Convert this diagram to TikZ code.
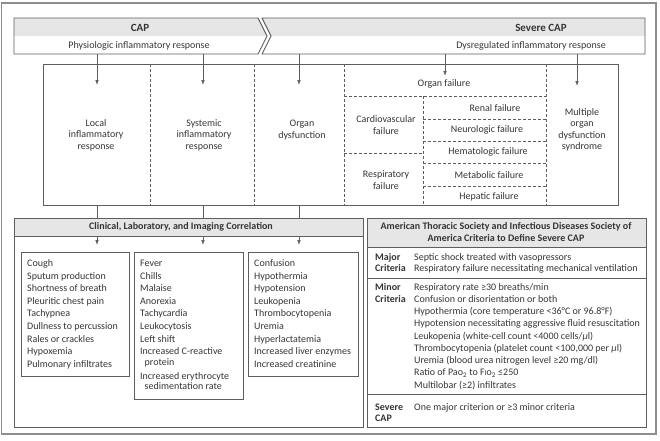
\documentclass[tikz,border=0pt]{standalone}
\usepackage{fontspec}
\setmainfont{Carlito}
\usetikzlibrary{arrows.meta}
\definecolor{ln}{HTML}{5E5E5E}
\definecolor{tx}{HTML}{353535}
\definecolor{band}{HTML}{E6E6E6}
\definecolor{framec}{HTML}{8E8E8E}
\begin{document}
\begin{tikzpicture}[x=1pt,y=-1pt,
  box/.style={draw=ln, line width=0.9pt},
  dsh/.style={draw=ln, line width=0.8pt, dash pattern=on 3pt off 2pt},
  arr/.style={draw=ln, line width=0.8pt, -{Latex[length=5pt,width=3.6pt]}},
  plain/.style={draw=ln, line width=0.8pt},
  hdr/.style={text=tx, font=\fontsize{11}{13}\selectfont\bfseries, inner sep=0pt},
  lbl/.style={text=tx, font=\fontsize{10}{11.5}\selectfont, align=center, inner sep=0pt},
  ttl/.style={text=tx, font=\fontsize{10}{11.5}\selectfont\bfseries, align=center, inner sep=0pt},
  item/.style={text=tx, font=\fontsize{10}{12}\selectfont, anchor=base west, inner sep=0pt},
  bitem/.style={text=tx, font=\fontsize{10}{12}\selectfont\bfseries, anchor=base west, inner sep=0pt}]
\useasboundingbox (0,0) rectangle (660,440);
% outer frame
\draw[framec, line width=1.2pt] (1.5,3) rectangle (656,434);
% headers
\fill[band] (14,18) -- (258,18) -- (267,36) -- (14,36) -- cycle;
\draw[box] (14,18) -- (258,18) -- (267,36) -- (258,54) -- (14,54) -- cycle;
\fill[band] (262,18) -- (645,18) -- (645,36) -- (271,36) -- cycle;
\draw[box] (262,18) -- (645,18) -- (645,54) -- (262,54) -- (271,36) -- cycle;
\node[hdr] (cap) at (140,28) {CAP};
\node[lbl] (capsub) at (139,46) {Physiologic inflammatory response};
\node[hdr] (sev) at (541,28) {Severe CAP};
\node[lbl] (sevsub) at (531,46) {Dysregulated inflammatory response};
% middle box
\draw[box] (43,64) rectangle (618,205);
\draw[dsh] (150,64) -- (150,205);
\draw[dsh] (254,64) -- (254,205);
\draw[dsh] (344,64) -- (344,205);
\draw[dsh] (546,64) -- (546,205);
\draw[dsh] (344,96) -- (546,96);
\draw[dsh] (423,96) -- (423,205);
\draw[dsh] (344,153) -- (423,153);
\draw[dsh] (423,119) -- (546,119);
\draw[dsh] (423,141) -- (546,141);
\draw[dsh] (423,163) -- (546,163);
\draw[dsh] (423,186) -- (546,186);
\node[lbl] (local) at (96,135) {Local\\inflammatory\\response};
\node[lbl] (sys) at (204,135) {Systemic\\inflammatory\\response};
\node[lbl] (orgd) at (302,130) {Organ\\dysfunction};
\node[lbl] (orgf) at (444,84) {Organ failure};
\node[lbl] (cardio) at (386,125) {Cardiovascular\\failure};
\node[lbl] (resp) at (386,180) {Respiratory\\failure};
\node[lbl] (renal) at (495,108) {Renal failure};
\node[lbl] (neuro) at (487,130) {Neurologic failure};
\node[lbl] (hema) at (488,152) {Hematologic failure};
\node[lbl] (meta) at (489,175) {Metabolic failure};
\node[lbl] (hepa) at (489,197) {Hepatic failure};
\node[lbl] (mods) at (582,130) {Multiple\\organ\\dysfunction\\syndrome};
% arrows from headers
\coordinate (h1) at (97,54);  \coordinate (e1) at (97,85);
\coordinate (h2) at (203,54); \coordinate (e2) at (203,85);
\coordinate (h3) at (299,54); \coordinate (e3) at (299,85);
\coordinate (h4) at (445,54); \coordinate (e4) at (445,76);
\coordinate (h5) at (577,54); \coordinate (e5) at (577,86);
\draw[arr] (h1) -- (e1);
\draw[arr] (h2) -- (e2);
\draw[arr] (h3) -- (e3);
\draw[arr] (h4) -- (e4);
\draw[arr] (h5) -- (e5);
% links to clinical box
\coordinate (b1) at (97,205);  \coordinate (c1) at (97,218);
\coordinate (b2) at (203,205); \coordinate (c2) at (203,218);
\coordinate (b3) at (299,205); \coordinate (c3) at (299,218);
\draw[plain] (b1) -- (c1);
\draw[plain] (b2) -- (c2);
\draw[plain] (b3) -- (c3);
% clinical box
\fill[band] (14,218) rectangle (363,236);
\draw[box] (14,236) -- (363,236);
\draw[box] (14,218) rectangle (363,427);
\node[ttl] (clin) at (181,227) {Clinical, Laboratory, and Imaging Correlation};
\coordinate (d1) at (97,236);  \coordinate (f1) at (97,245);
\coordinate (d2) at (203,236); \coordinate (f2) at (203,245);
\coordinate (d3) at (299,236); \coordinate (f3) at (299,245);
\draw[arr] (d1) -- (f1);
\draw[arr] (d2) -- (f2);
\draw[arr] (d3) -- (f3);
\draw[box] (21,252) rectangle (129,376);
\draw[box] (134,252) rectangle (243,399);
\draw[box] (248,252) rectangle (358,376);
\foreach \t [count=\i] in {Cough,Sputum production,Shortness of breath,Pleuritic chest pain,Tachypnea,Dullness to percussion,Rales or crackles,Hypoxemia,Pulmonary infiltrates}
  \node[item] (la\i) at (27,{266.5+12.6*(\i-1)}) {\t};
\foreach \t [count=\i] in {Fever,Chills,Malaise,Anorexia,Tachycardia,Leukocytosis,Left shift}
  \node[item] (sa\i) at (140,{266.5+12.6*(\i-1)}) {\t};
\node[item] (sa8) at (140,354.5) {Increased C-reactive};
\node[item] (sa9) at (144.5,365) {protein};
\node[item] (sa10) at (140,379) {Increased erythrocyte};
\node[item] (sa11) at (144.5,389.5) {sedimentation rate};
\foreach \t [count=\i] in {Confusion,Hypothermia,Hypotension,Leukopenia,Thrombocytopenia,Uremia,Hyperlactatemia,Increased liver enzymes,Increased creatinine}
  \node[item] (oa\i) at (254,{266.5+12.6*(\i-1)}) {\t};
% ATS box
\fill[band] (367,218) rectangle (646,247);
\draw[box] (367,247) -- (646,247);
\draw[box] (367,278) -- (646,278);
\draw[box] (367,394) -- (646,394);
\draw[box] (367,218) rectangle (646,427);
\node[ttl] (ats) at (506,232) {American Thoracic Society and Infectious Diseases Society of\\America Criteria to Define Severe CAP};
\node[bitem] (maj1) at (375,260) {Major};
\node[bitem] (maj2) at (375,271.5) {Criteria};
\node[item] (mt1) at (414,260) {Septic shock treated with vasopressors};
\node[item] (mt2) at (414,271.5) {Respiratory failure necessitating mechanical ventilation};
\node[bitem] (min1) at (375,290) {Minor};
\node[bitem] (min2) at (375,302.25) {Criteria};
\foreach \t [count=\i] in {Respiratory rate ≥30 breaths/min,Confusion or disorientation or both,Hypothermia (core temperature <36°C or 96.8°F),Hypotension necessitating aggressive fluid resuscitation,Leukopenia (white-cell count <4000 cells/\textit{µ}l),{Thrombocytopenia (platelet count <100,000 per \textit{µ}l)},Uremia (blood urea nitrogen level ≥20 mg/dl),Ratio of Pao\textsubscript{2} to F{\fontsize{7.5}{8}\selectfont I}o\textsubscript{2} ≤250,Multilobar (≥2) infiltrates}
  \node[item] (nt\i) at (414,{290+12.25*(\i-1)}) {\t};
\node[bitem] (sv1) at (375,410) {Severe};
\node[bitem] (sv2) at (375,421.5) {CAP};
\node[item] (st1) at (414,410) {One major criterion or ≥3 minor criteria};
\end{tikzpicture}
\end{document}
